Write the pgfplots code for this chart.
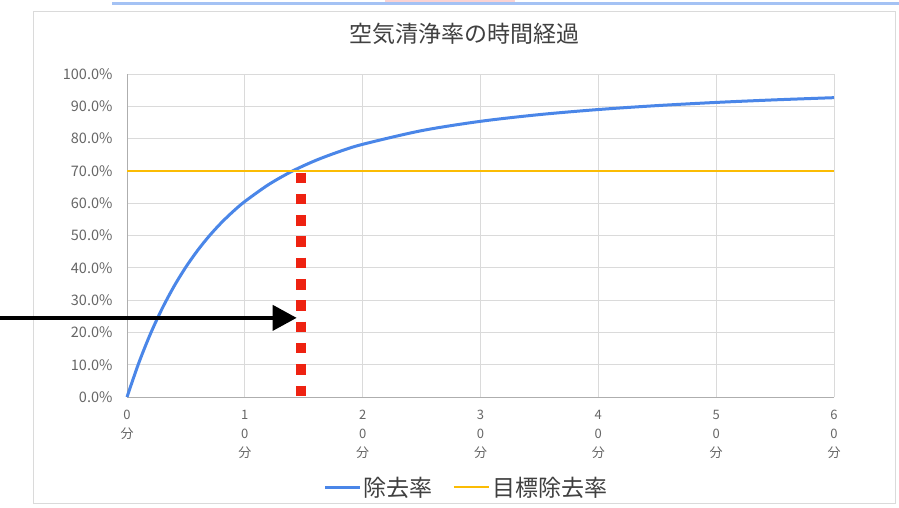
\documentclass[border=0pt]{standalone}
\usepackage{pgfplots}
\pgfplotsset{compat=1.18}
\usepackage{fontspec}
\setmainfont{Noto Sans CJK JP}
\usetikzlibrary{arrows.meta}
\definecolor{gblue}{HTML}{4A86E8}
\definecolor{gorange}{HTML}{FBBC04}
\definecolor{gred}{HTML}{EE2211}
\definecolor{gridc}{HTML}{DADADA}
\definecolor{tickc}{HTML}{666666}
\definecolor{pinkc}{HTML}{FBD3D3}
\definecolor{topblue}{HTML}{A4C2F4}
\begin{document}
\begin{tikzpicture}
\useasboundingbox (0,0) rectangle (899pt,507pt);
\fill[white] (0,0) rectangle (899pt,507pt);
\draw[draw=gridc, line width=1pt] (33pt,4pt) rectangle (895pt,495pt);
\fill[pinkc] (385pt,505pt) rectangle (515pt,507pt);
\draw[color=topblue, line width=2.5pt] (112pt,503.5pt) -- (899pt,503.5pt);
\begin{axis}[
  at={(127pt,110pt)}, anchor=south west,
  scale only axis, width=707pt, height=323pt,
  xmin=0, xmax=60, ymin=0, ymax=100,
  clip=false,
  axis x line*=bottom, axis y line*=left,
  axis line style={draw=gridc!80!black, line width=1pt, -},
  major tick length=0pt,
  grid=major,
  major grid style={draw=gridc, line width=1pt},
  xtick={0,10,20,30,40,50,60},
  xticklabels={{0\\分},{1\\0\\分},{2\\0\\分},{3\\0\\分},{4\\0\\分},{5\\0\\分},{6\\0\\分}},
  xticklabel style={align=center, font=\fontsize{13}{19}\selectfont, text=tickc, inner sep=2pt, yshift=-11pt},
  ytick={0,10,...,100},
  yticklabels={0.0\%,10.0\%,20.0\%,30.0\%,40.0\%,50.0\%,60.0\%,70.0\%,80.0\%,90.0\%,100.0\%},
  yticklabel style={font=\fontsize{14.5}{16}\selectfont, text=tickc, xshift=-11pt},
  /pgf/number format/assume math mode=true,
  title={空気清浄率の時間経過},
  title style={at={(0.477,1.105)}, anchor=center, font=\fontsize{23}{26}\selectfont, text=black!75},
  legend style={at={(0.48,-0.279)}, anchor=center, draw=none, fill=none,
    legend columns=2, font=\fontsize{23}{26}\selectfont, text=black!75,
    /tikz/every even column/.append style={column sep=18pt}},
  legend image code/.code={\draw[#1] (0pt,0pt) -- (35pt,0pt);},
]
\addplot[color=gblue, line width=3pt, smooth] coordinates {
(0,0) (1,10.54) (2,19.65) (3,27.51) (4,34.32) (5,40.25) (6,45.42) (7,49.95)
(8,53.93) (9,57.43) (10,60.53) (12,65.73) (14,69.88) (16,73.22) (18,75.96)
(20,78.23) (25,82.46) (30,85.35) (35,87.43) (40,89.00) (45,90.22) (50,91.20)
(55,92.00) (60,92.67)};
\addlegendentry{除去率}
\addplot[color=gorange, line width=2.5pt] coordinates {(0,70) (60,70)};
\addlegendentry{目標除去率}
\addplot[forget plot, color=gred, line width=10.5pt, dash pattern=on 10.5pt off 10.8pt] coordinates {(14.78,69.5) (14.78,0)};
\addplot[forget plot, color=black, line width=4pt, -{Triangle[length=24pt,width=25pt]}] coordinates {(-10.8,24.5) (14.4,24.5)};
\end{axis}
\end{tikzpicture}
\end{document}
